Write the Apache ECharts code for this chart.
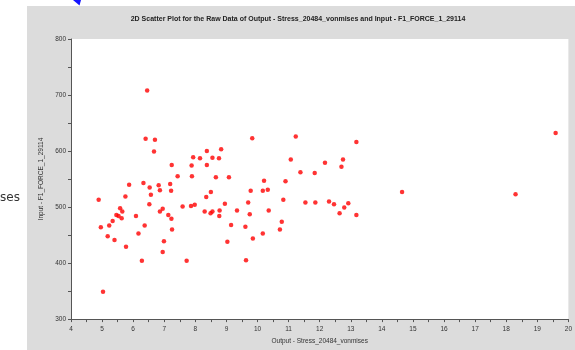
<!DOCTYPE html>
<html>
<head>
<meta charset="utf-8">
<script src="https://cdn.jsdelivr.net/npm/echarts@6/dist/echarts.min.js"></script>
<style>
  html, body { margin: 0; padding: 0; background: #fff; }
  #eChart { width: 575px; height: 350px; }
</style>
</head>
<body>
<div id="eChart"></div>
<script>
// raw data: output stress (x) vs input force (y)
const stressValues = [
  6.45, 6.40, 6.70, 6.67, 9.83, 8.37, 8.83, 7.93, 8.15, 8.55,
  8.76, 7.24, 7.88, 8.37, 7.43, 7.89, 8.66, 9.08, 10.21, 5.87,
  6.33, 6.82, 7.19, 6.53, 6.86, 7.22, 9.78, 10.17, 10.33, 5.75,
  6.57, 8.50, 8.35, 4.89, 6.52, 7.59, 7.86, 7.98, 8.95, 9.70,
  5.58, 5.65, 6.95, 6.86, 8.30, 8.55, 8.49, 8.78, 9.34, 10.36,
  5.46, 5.53, 5.63, 6.09, 7.13, 7.23, 8.77, 9.75, 5.34, 5.23,
  4.96, 6.37, 7.25, 9.15, 9.61, 10.72, 5.18, 5.40, 6.17, 6.99,
  9.03, 9.85, 10.17, 5.77, 6.95, 6.28, 7.72, 9.63, 5.03, 11.23,
  13.18, 11.07, 12.17, 12.75, 12.70, 11.38, 11.84, 10.90, 14.65, 10.83,
  11.54, 11.86, 12.30, 12.46, 12.92, 12.79, 12.64, 13.18, 10.78, 19.59,
  18.30
];
const forceValues = [
  708, 622, 620, 599, 623, 600, 603, 589, 587, 588,
  587, 575, 574, 575, 555, 555, 553, 553, 547, 540,
  543, 539, 541, 535, 530, 529, 529, 529, 531, 519,
  522, 527, 518, 513, 505, 501, 502, 504, 506, 508,
  498, 492, 497, 492, 492, 492, 489, 494, 494, 494,
  486, 484, 480, 484, 486, 479, 484, 487, 475, 467,
  464, 467, 460, 468, 465, 460, 448, 441, 453, 439,
  438, 444, 453, 429, 420, 404, 404, 405, 349, 626,
  616, 585, 579, 585, 572, 562, 561, 546, 527, 513,
  508, 508, 510, 505, 507, 499, 489, 486, 474, 632,
  523
];

const chartTitle = "2D Scatter Plot for the Raw Data of Output - Stress_20484_vonmises and Input - F1_FORCE_1_29114";
const xAxisName = "Output - Stress_20484_vonmises";
const yAxisName = "Input - F1_FORCE_1_29114";
const sideText = "ses";

const points = stressValues.map((x, i) => [x, forceValues[i]]);

const font = "Liberation Sans, Arial, sans-serif";
const axisColor = "#555555";

const opts = {
  backgroundColor: "#ffffff",
  animation: false,
  textStyle: { fontFamily: font },
  grid: {
    left: 71,
    top: 39,
    width: 501,
    height: 285,
    show: true,
    backgroundColor: "#ffffff",
    borderWidth: 0,
  },
  xAxis: {
    type: "value",
    min: 4,
    max: 20,
    interval: 1,
    name: xAxisName,
    nameLocation: "middle",
    nameGap: 18,
    nameTextStyle: { fontSize: 6.5, color: "#333", fontFamily: font },
    axisLine: { show: true, lineStyle: { color: axisColor, width: 1 } },
    axisTick: { show: true, length: 3, lineStyle: { color: axisColor } },
    minorTick: { show: true, splitNumber: 2, length: 3, lineStyle: { color: axisColor } },
    splitLine: { show: false },
    axisLabel: { fontSize: 6.5, color: "#333", margin: 7, fontFamily: font },
  },
  yAxis: {
    type: "value",
    min: 300,
    max: 800,
    interval: 100,
    name: yAxisName,
    nameLocation: "middle",
    nameGap: 22,
    nameTextStyle: { fontSize: 6.5, color: "#333", fontFamily: font },
    axisLine: { show: true, lineStyle: { color: axisColor, width: 1 } },
    axisTick: { show: true, length: 3, lineStyle: { color: axisColor } },
    minorTick: { show: true, splitNumber: 2, length: 3, lineStyle: { color: axisColor } },
    splitLine: { show: false },
    axisLabel: { fontSize: 6.5, color: "#333", margin: 5, fontFamily: font },
  },
  graphic: [
    {
      type: "rect",
      z: -10,
      silent: true,
      shape: { x: 27, y: 6, width: 548, height: 344 },
      style: { fill: "#dcdcdc" },
    },
    {
      type: "polygon",
      silent: true,
      shape: { points: [[73, 0], [81, 0], [79.5, 5.5]] },
      style: { fill: "#1414ff" },
    },
    {
      type: "text",
      silent: true,
      x: 298,
      y: 19,
      style: {
        text: chartTitle,
        align: "center",
        verticalAlign: "middle",
        fontSize: 7,
        fontWeight: "bold",
        fontFamily: font,
        fill: "#222",
      },
    },
    {
      type: "text",
      silent: true,
      x: 0,
      y: 198,
      style: {
        text: sideText,
        align: "left",
        verticalAlign: "middle",
        fontSize: 12,
        fontFamily: "DejaVu Sans, sans-serif",
        fill: "#333",
      },
    },
  ],
  series: [
    {
      type: "scatter",
      symbol: "circle",
      symbolSize: 4.5,
      itemStyle: { color: "#ff0000" },
      data: points,
    },
  ],
};

const myChart = echarts.init(document.getElementById("eChart"), null, {
  renderer: "canvas",
});
myChart.setOption(opts);
</script>
</body>
</html>
